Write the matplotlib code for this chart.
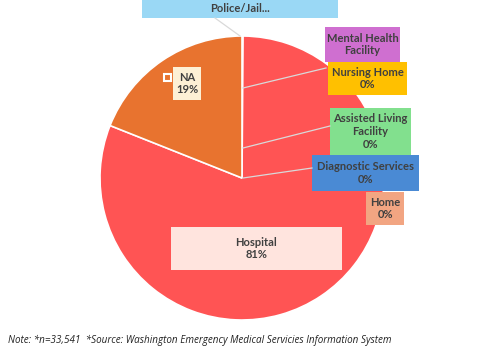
import matplotlib
matplotlib.use("Agg")
import matplotlib.pyplot as plt
from matplotlib.patches import Rectangle
from matplotlib.lines import Line2D

# ---- data ----
categories = ["Police/Jail", "Mental Health Facility", "Nursing Home",
              "Assisted Living Facility", "Diagnostic Services", "Home",
              "Hospital", "NA"]
shares = [0.02, 0.02, 0.02, 0.02, 0.02, 0.02, 81, 19]
label_text = ["Police/Jail...", "Mental Health\nFacility", "Nursing Home\n0%",
              "Assisted Living\nFacility\n0%", "Diagnostic Services\n0%",
              "Home\n0%", "Hospital\n81%", "NA\n19%"]
slice_colors = ["#9AD8F5", "#CF6FD0", "#FFC000", "#82E08E", "#4A8AD4",
                "#F2A582", "#FF5454", "#E8732F"]
box_colors = ["#9AD8F5", "#CF6FD0", "#FFC000", "#82E08E", "#4A8AD4",
              "#F2A582", "#FFE4DE", "#FDF0D5"]
note = "Note: *n=33,541  *Source: Washington Emergency Medical Servicies Information System"

W, H = 484, 358
fig = plt.figure(figsize=(W / 100, H / 100), dpi=100, facecolor="white")

# pie centred at (242, 178) px, radius 142 px
cx, cy, r = 242, 178, 142
ax = fig.add_axes([(cx - r) / W, (H - cy - r) / H, 2 * r / W, 2 * r / H])
ax.pie(shares, colors=slice_colors, startangle=90, counterclock=False,
       radius=1, wedgeprops={"edgecolor": "white", "linewidth": 1.2})
ax.set_xlim(-1, 1); ax.set_ylim(-1, 1)
ax.set_aspect("equal")
ax.axis("off")


def fx(x):
    return x / W


def fy(y):
    return 1 - y / H


# label boxes (left, top, right, bottom in px) and leader lines
boxes = [(142, 0, 338, 18), (325, 27, 400, 62), (328, 62, 407, 95),
         (330, 108, 411, 155), (312, 155, 419, 191), (366, 192, 404, 225),
         (171, 227, 342, 270), (173, 67, 201, 100)]
leaders = [((215, 18), (240, 36)), ((326, 68), (243, 88)), None,
           ((330, 126), (243, 148)), ((312, 168), (243, 178)), None, None, None]

for seg in leaders:
    if seg is None:
        continue
    (x0, y0), (x1, y1) = seg
    fig.add_artist(Line2D([fx(x0), fx(x1)], [fy(y0), fy(y1)],
                          color="#D9D9D9", lw=0.9, transform=fig.transFigure))

for txt, col, (l, t, rr, b) in zip(label_text, box_colors, boxes):
    fig.add_artist(Rectangle((fx(l), fy(b)), fx(rr) - fx(l), fy(t) - fy(b),
                             facecolor=col, edgecolor="none",
                             transform=fig.transFigure))
    fig.text(fx((l + rr) / 2), fy((t + b) / 2), txt, ha="center", va="center",
             fontsize=8, fontweight="bold", color="#404040",
             family="Lato", linespacing=1.2)

# small legend key beside the NA box
fig.add_artist(Rectangle((fx(164), fy(81)), fx(7), 7 / H, facecolor="#E8732F",
                         edgecolor="white", lw=1.5, transform=fig.transFigure))

fig.text(fx(8), fy(340), note, ha="left", va="center", fontsize=7.1,
         style="italic", color="#222222", family="Open Sans")

fig.savefig("out.png", dpi=100, facecolor="white")
